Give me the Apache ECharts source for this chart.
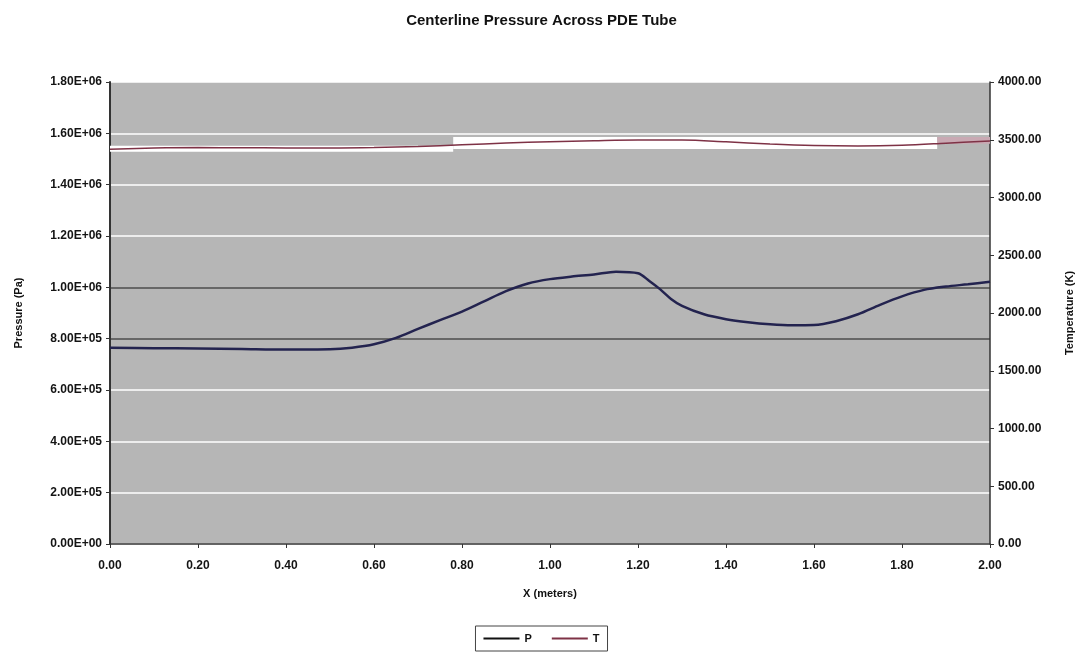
<!DOCTYPE html>
<html>
<head>
<meta charset="utf-8">
<title>Centerline Pressure Across PDE Tube</title>
<script src="https://cdn.jsdelivr.net/npm/echarts@6/dist/echarts.min.js"></script>
<style>
  html, body { margin: 0; padding: 0; background: #fff; }
  #chart { width: 1083px; height: 656px; }
</style>
</head>
<body>
<div id="chart"></div>
<script>
// Axial positions along the tube (m) and the centerline values sampled there
const xPressure = [0.00, 0.10, 0.20, 0.30, 0.40, 0.50, 0.55, 0.60, 0.65, 0.70, 0.75, 0.80, 0.85, 0.90, 0.95,
                   1.00, 1.05, 1.10, 1.15, 1.20, 1.225, 1.25, 1.275, 1.30, 1.35, 1.40, 1.45, 1.50, 1.55,
                   1.60, 1.65, 1.70, 1.75, 1.80, 1.85, 1.90, 1.95, 2.00];
const pressure = [765000, 763000, 762000, 760000, 758000, 759000, 765000, 778000, 803000, 838000, 872000,
                  905000, 945000, 985000, 1015000, 1032000, 1042000, 1050000, 1061000, 1055000, 1026000,
                  993000, 955000, 928000, 895000, 876000, 864000, 856000, 852000, 853000, 868000, 895000,
                  932000, 965000, 990000, 1003000, 1012000, 1022000];

const xTemperature = [0.0, 0.1, 0.2, 0.3, 0.4, 0.5, 0.6, 0.7, 0.8, 0.9, 1.0,
                      1.1, 1.2, 1.3, 1.4, 1.5, 1.6, 1.7, 1.8, 1.9, 2.0];
const temperature = [3418, 3428, 3432, 3431, 3429, 3428, 3432, 3442, 3456, 3471, 3483,
                     3492, 3498, 3497, 3482, 3463, 3450, 3446, 3452, 3470, 3490];

// Axis ranges and tick spacing
const xTicks = { min: 0, max: 2, interval: 0.2 };
const pTicks = { min: 0, max: 1800000, interval: 200000 };
const tTicks = { min: 0, max: 4000, interval: 500 };

const FONT = '"Liberation Sans", Arial, Helvetica, sans-serif';

function sci(v) {
  if (v === 0) return '0.00E+00';
  const e = Math.floor(Math.log10(Math.abs(v)) + 1e-9);
  const m = v / Math.pow(10, e);
  return m.toFixed(2) + 'E' + (e >= 0 ? '+' : '-') + String(Math.abs(e)).padStart(2, '0');
}

const chart = echarts.init(document.getElementById('chart'), null, { renderer: 'canvas' });

const tickLabel = { color: '#141414', fontFamily: FONT, fontSize: 12, fontWeight: 'bold' };

chart.setOption({
  animation: false,
  backgroundColor: '#ffffff',
  title: {
    text: 'Centerline Pressure Across PDE Tube',
    left: 'center',
    top: 8,
    textStyle: { fontFamily: FONT, fontSize: 15, fontWeight: 'bold', color: '#111' }
  },
  grid: {
    left: 110, right: 90, top: 82, bottom: 112,
    show: true, backgroundColor: '#b6b6b6', borderWidth: 0
  },
  legend: {
    left: 'center',
    top: 626,
    icon: 'rect',
    itemWidth: 36,
    itemHeight: 2,
    itemGap: 20,
    padding: [7, 8, 7, 8],
    borderColor: '#444',
    borderWidth: 1,
    borderRadius: 0,
    textStyle: { fontFamily: FONT, fontSize: 11, fontWeight: 'bold', color: '#111' },
    data: ['P', 'T']
  },
  xAxis: {
    type: 'value',
    min: xTicks.min, max: xTicks.max, interval: xTicks.interval,
    name: 'X (meters)',
    nameLocation: 'middle',
    nameGap: 44,
    nameTextStyle: { fontFamily: FONT, fontSize: 11, fontWeight: 'bold', color: '#111' },
    axisLine: { show: true, lineStyle: { color: '#333', width: 1.5 } },
    axisTick: { show: true, length: 4, lineStyle: { color: '#333' } },
    axisLabel: Object.assign({ margin: 16, formatter: v => v.toFixed(2) }, tickLabel),
    splitLine: { show: false }
  },
  yAxis: [
    {
      type: 'value',
      position: 'left',
      min: pTicks.min, max: pTicks.max, interval: pTicks.interval,
      name: 'Pressure (Pa)',
      nameLocation: 'middle',
      nameRotate: 90,
      nameGap: 86,
      nameTextStyle: { fontFamily: FONT, fontSize: 11, fontWeight: 'bold', color: '#111' },
      axisLine: { show: true, lineStyle: { color: '#333', width: 2 } },
      axisTick: { show: true, length: 4, lineStyle: { color: '#333' } },
      axisLabel: Object.assign({ margin: 8, formatter: sci }, tickLabel),
      splitLine: {
        show: true,
        lineStyle: {
          width: 1.5,
          color: ['#ffffff', '#ffffff', '#ffffff', '#ffffff', '#4c4c4c', '#4c4c4c',
                  '#ffffff', '#ffffff', '#ffffff', '#ffffff']
        }
      }
    },
    {
      type: 'value',
      position: 'right',
      min: tTicks.min, max: tTicks.max, interval: tTicks.interval,
      name: 'Temperature (K)',
      nameLocation: 'middle',
      nameRotate: 90,
      nameGap: 74,
      nameTextStyle: { fontFamily: FONT, fontSize: 11, fontWeight: 'bold', color: '#111' },
      axisLine: { show: true, lineStyle: { color: '#333', width: 1.5 } },
      axisTick: { show: true, length: 4, lineStyle: { color: '#333' } },
      axisLabel: Object.assign({ margin: 8, formatter: v => v.toFixed(2) }, tickLabel),
      splitLine: { show: false }
    }
  ],
  series: [
    {
      name: 'P',
      type: 'line',
      yAxisIndex: 0,
      data: xPressure.map((x, i) => [x, pressure[i]]),
      smooth: 0.3,
      symbol: 'none',
      color: '#111',
      lineStyle: { color: '#23234f', width: 2.5 },
      z: 5
    },
    {
      name: 'T',
      type: 'line',
      yAxisIndex: 1,
      data: xTemperature.map((x, i) => [x, temperature[i]]),
      smooth: 0.35,
      symbol: 'none',
      color: '#7e3246',
      lineStyle: { color: '#7e3246', width: 1.5 },
      z: 5,
      // pale band running behind the temperature trace
      markArea: {
        silent: true,
        itemStyle: { color: '#ffffff', opacity: 1 },
        data: [
          [{ coord: [0.0, 3448] }, { coord: [0.78, 3396] }],
          [{ coord: [0.78, 3524] }, { coord: [1.88, 3420] }],
          [{ coord: [1.88, 3524], itemStyle: { color: '#c9a9b3' } }, { coord: [2.0, 3465] }]
        ]
      }
    }
  ]
});
</script>
</body>
</html>
